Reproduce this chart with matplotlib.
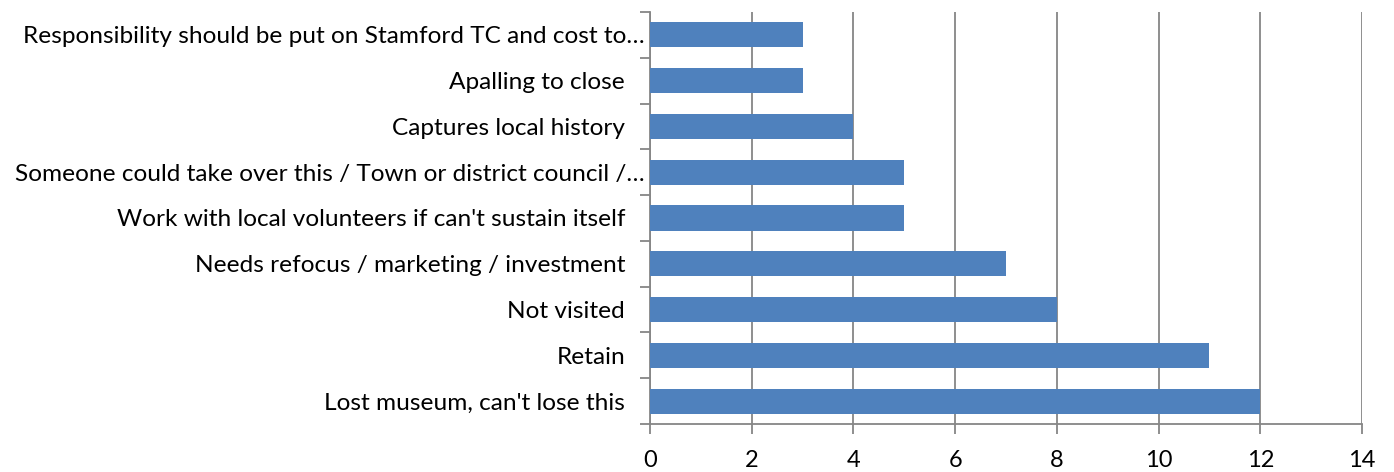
import matplotlib
matplotlib.use("Agg")
import matplotlib.pyplot as plt
import matplotlib.transforms as mtransforms
import numpy as np

# categories listed bottom to top
categories = [
    "Lost museum, can't lose this",
    "Retain",
    "Not visited",
    "Needs refocus / marketing / investment",
    "Work with local volunteers if can't sustain itself",
    "Someone could take over this / Town or district council /\u2026",
    "Captures local history",
    "Apalling to close",
    "Responsibility should be put on Stamford TC and cost to\u2026",
]
counts = [12, 11, 8, 7, 5, 5, 4, 3, 3]
x_ticks = [0, 2, 4, 6, 8, 10, 12, 14]

plt.rcParams['font.family'] = ['Lato', 'DejaVu Sans']

fig = plt.figure(figsize=(13.94, 4.72), dpi=100)
ax = fig.add_axes([0.4663, 0.1017, 0.977 - 0.4663, 0.9746 - 0.1017])

y = np.arange(len(categories))
ax.barh(y, counts, height=0.55, color='#4F81BD', zorder=3)

ax.set_xlim(0, 14)
ax.set_ylim(-0.5, len(categories) - 0.5)
ax.set_xticks(x_ticks)
ax.set_xticklabels([str(v) for v in x_ticks])
ax.xaxis.grid(True, color='#868686', linewidth=1.3, zorder=0)

# category labels centred on bars, tick marks on the boundaries
ax.set_yticks(y)
ax.set_yticklabels(categories)
ax.set_yticks(np.arange(-0.5, len(categories), 1), minor=True)
ax.tick_params(axis='y', which='major', length=0, pad=18, labelsize=17.6)
ax.tick_params(axis='y', which='minor', length=7, width=1.3, color='#868686')
ax.tick_params(axis='x', length=7, width=1.3, color='#868686', pad=12, labelsize=17)

# truncated labels sit closer to the axis
shift = mtransforms.ScaledTranslation(14 / 72, 0, fig.dpi_scale_trans)
for lab in ax.get_yticklabels():
    if lab.get_text().endswith('\u2026'):
        lab.set_transform(lab.get_transform() + shift)

for s in ['top', 'right']:
    ax.spines[s].set_visible(False)
for s in ['left', 'bottom']:
    ax.spines[s].set_color('#868686')
    ax.spines[s].set_linewidth(1.3)

fig.savefig('out.png', dpi=100)
